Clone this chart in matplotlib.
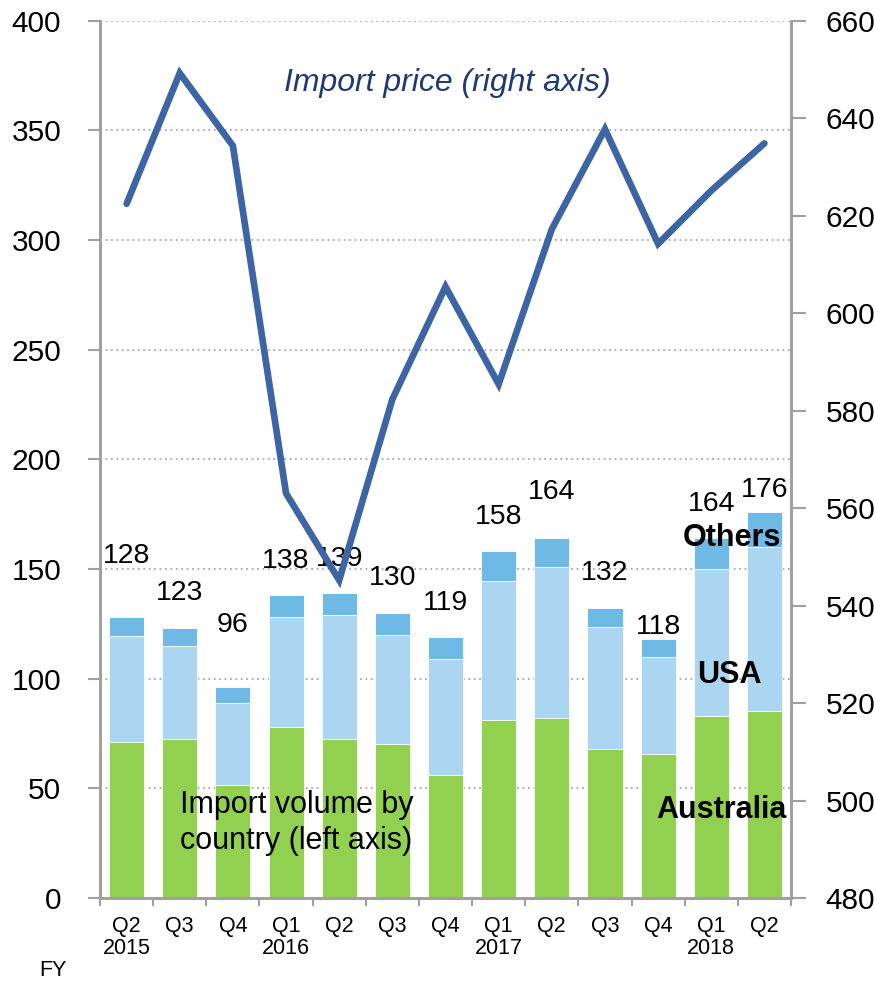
import numpy as np
import matplotlib
matplotlib.use("Agg")
import matplotlib.pyplot as plt

plt.rcParams['font.family'] = ['Liberation Sans', 'DejaVu Sans']

# quarters (FY)
quarters = ["Q2\n2015", "Q3", "Q4", "Q1\n2016", "Q2", "Q3", "Q4",
            "Q1\n2017", "Q2", "Q3", "Q4", "Q1\n2018", "Q2"]

# import volume by country (left axis)
australia = [71.2, 72.7, 51.7, 78.0, 72.7, 70.4, 55.9, 81.3, 82.2, 67.8, 65.8, 83.1, 85.4]
usa = [48.3, 42.1, 37.2, 50.2, 56.2, 49.7, 53.1, 63.4, 68.8, 55.9, 44.1, 66.9, 74.7]
totals = [128, 123, 96, 138, 139, 130, 119, 158, 164, 132, 118, 164, 176]
others = [t - a - u for t, a, u in zip(totals, australia, usa)]

# import price (right axis)
price = [622.4, 649.2, 634.3, 563.0, 545.2, 582.3, 605.4, 585.4, 617.2, 637.7, 614.2, 625.1, 634.8]

# how far each total label sits above its bar (left-axis units)
label_lift = [28, 16, 28.5, 15.7, 15.6, 16, 15.5, 15.8, 21, 16, 5.6, 15.7, 10]

c_aus = '#92d050'
c_usa = '#aad6f1'
c_oth = '#6fb9e6'
c_line = '#3d64a4'
c_axis = '#a0a0a0'

x = np.arange(len(quarters))
w = 0.66

fig = plt.figure(figsize=(8.75, 9.81), dpi=100)
ax = fig.add_axes([0.1143, 0.0846, 0.7897, 0.8945])

ax.bar(x, australia, w, color=c_aus, edgecolor='white', linewidth=0.6, zorder=2)
ax.bar(x, usa, w, bottom=australia, color=c_usa, edgecolor='white', linewidth=0.6, zorder=2)
ax.bar(x, others, w, bottom=np.add(australia, usa), color=c_oth,
       edgecolor='white', linewidth=0.6, zorder=2)

for i, t in enumerate(totals):
    ax.text(x[i], t + label_lift[i], str(t), ha='center', va='center',
            fontsize=20.5, color='black', zorder=3)

ax.set_xlim(-0.5, len(quarters) - 0.5)
ax.set_ylim(0, 400)
ax.set_yticks(np.arange(0, 401, 50))
ax.yaxis.grid(True, linestyle=(0, (1, 2)), color='#a8a8a8', linewidth=1.3, zorder=0)
ax.set_axisbelow(True)

ax.set_xticks(np.arange(-0.5, len(quarters), 1))
ax.set_xticklabels([])
ax.set_xticks(x, minor=True)
ax.set_xticklabels(quarters, minor=True, fontsize=15.5, linespacing=1.05)
ax.tick_params(axis='x', which='major', length=6, width=1.5, color=c_axis, direction='out')
ax.tick_params(axis='x', which='minor', length=0, pad=13)
ax.tick_params(axis='y', length=9, width=1.5, color=c_axis, labelsize=21.5, pad=19)

for s in ['left', 'right', 'bottom']:
    ax.spines[s].set_color(c_axis)
    ax.spines[s].set_linewidth(2)
ax.spines['top'].set_visible(False)

fig.text(180 / 875, 1 - 823 / 981, "Import volume by\ncountry (left axis)",
         ha='left', va='center', fontsize=22, linespacing=1.25)

ax2 = ax.twinx()
ax2.plot(x, price, color=c_line, linewidth=4.8, solid_capstyle='round',
         solid_joinstyle='miter', zorder=4)
ax2.set_ylim(480, 660)
ax2.set_yticks(np.arange(480, 661, 20))
ax2.tick_params(axis='y', length=11, width=1.5, color=c_axis, labelsize=21.5, pad=14)
for s in ['left', 'right', 'bottom']:
    ax2.spines[s].set_color(c_axis)
    ax2.spines[s].set_linewidth(2)
ax2.spines['top'].set_visible(False)

fig.text(447 / 875, 1 - 83 / 981, "Import price (right axis)",
         ha='center', va='center', fontsize=23, style='italic', color='#1f3a73')

# series names inside the last bars
fig.text(732 / 875, 1 - 538 / 981, "Others", ha='center', va='center',
         fontsize=22, fontweight='bold')
fig.text(729 / 875, 1 - 675 / 981, "USA", ha='center', va='center',
         fontsize=22, fontweight='bold')
fig.text(721 / 875, 1 - 810 / 981, "Australia", ha='center', va='center',
         fontsize=22, fontweight='bold')

fig.text(53 / 875, 1 - 971 / 981, "FY", ha='center', va='center', fontsize=15.5)

fig.savefig("out.png", dpi=100)
